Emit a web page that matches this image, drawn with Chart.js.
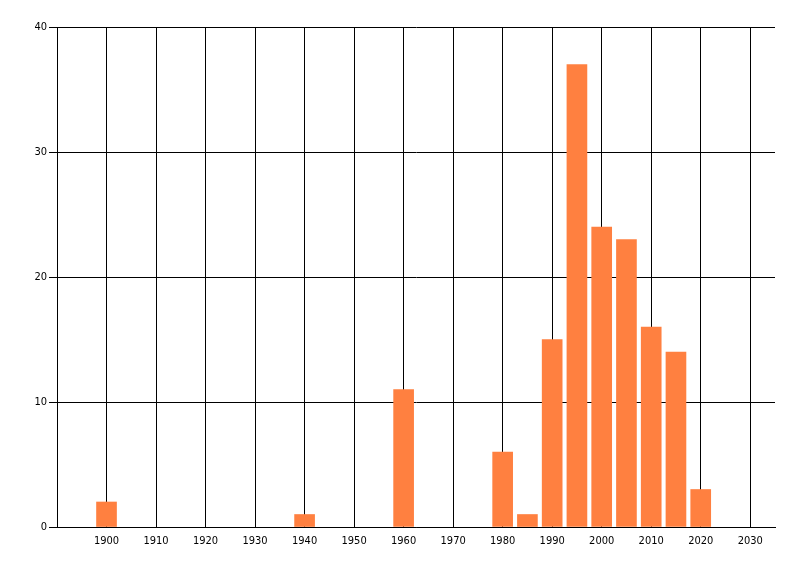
<!DOCTYPE html>
<html>
<head>
<meta charset="utf-8">
<script src="https://cdn.jsdelivr.net/npm/chart.js@4/dist/chart.umd.min.js"></script>
<style>
  html, body { margin: 0; padding: 0; background: #fff; }
  canvas { display: block; }
</style>
</head>
<body>
<canvas id="myChart" width="800" height="576"></canvas>
<script>
// years (bar centres) and counts
const years  = [1900, 1940, 1960, 1980, 1985, 1990, 1995, 2000, 2005, 2010, 2015, 2020];
const counts = [2, 1, 11, 6, 1, 15, 37, 24, 23, 16, 14, 3];
const xTicks = [1900, 1910, 1920, 1930, 1940, 1950, 1960, 1970, 1980, 1990, 2000, 2010, 2020, 2030];
const yTicks = [0, 10, 20, 30, 40];

document.addEventListener('DOMContentLoaded', () => {
    const canvas = document.getElementById('myChart');
    const ctx = canvas.getContext('2d');
    const font = { family: '"DejaVu Sans Condensed", "Liberation Sans", sans-serif', size: 11 };

    new Chart(ctx, {
        type: 'bar',
        data: {
            datasets: [{
                data: years.map((y, i) => ({ x: y, y: counts[i] })),
                backgroundColor: '#FF8040',
                borderWidth: 0,
                barThickness: 20
            }]
        },
        options: {
            responsive: false,
            animation: false,
            devicePixelRatio: 1,
            layout: { padding: { top: 27, right: 25, left: 0, bottom: 0 } },
            plugins: {
                legend: { display: false },
                tooltip: { enabled: false }
            },
            scales: {
                x: {
                    type: 'linear',
                    min: 1890,
                    max: 2035,
                    offset: false,
                    afterBuildTicks: axis => { axis.ticks = xTicks.map(v => ({ value: v })); },
                    afterFit: axis => { axis.height = 49; },
                    grid: { color: '#000', lineWidth: 1, drawTicks: false, offset: false },
                    border: { color: '#000', width: 1 },
                    ticks: {
                        color: '#000',
                        font,
                        padding: 8,
                        maxRotation: 0,
                        autoSkip: false,
                        callback: v => String(v)
                    }
                },
                y: {
                    min: 0,
                    max: 40,
                    afterBuildTicks: axis => { axis.ticks = yTicks.map(v => ({ value: v })); },
                    afterFit: axis => { axis.width = 57; },
                    grid: { color: '#000', lineWidth: 1, tickLength: 8 },
                    border: { color: '#000', width: 1 },
                    ticks: { color: '#000', font, padding: 2 }
                }
            }
        }
    });
});
</script>
</body>
</html>
